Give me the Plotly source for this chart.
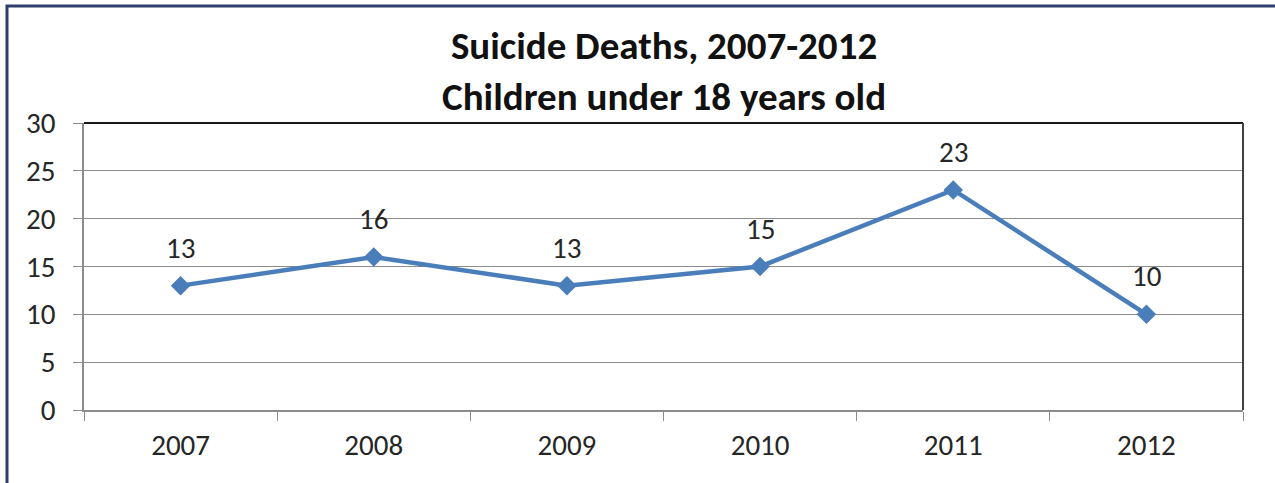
import plotly.graph_objects as go

years = ["2007", "2008", "2009", "2010", "2011", "2012"]
deaths = [13, 16, 13, 15, 23, 10]
y_ticks = [0, 5, 10, 15, 20, 25, 30]
title_lines = ["Suicide Deaths, 2007-2012", "Children under 18 years old"]

LINE_BLUE = "#4A7EBB"
FONT = "Carlito, Lato, 'Open Sans', sans-serif"
TEXT = "#262626"

W, H = 1275, 483
M = dict(l=84, r=32, t=123, b=73)
pw = W - M["l"] - M["r"]
ph = H - M["t"] - M["b"]


def px_x(p):
    return (p - M["l"]) / pw


def px_y(p):
    return (H - M["b"] - p) / ph


fig = go.Figure()
fig.add_trace(go.Scatter(
    x=years, y=deaths, mode="lines+markers",
    line=dict(color=LINE_BLUE, width=4.5),
    marker=dict(symbol="diamond", size=15, color=LINE_BLUE),
    hoverinfo="skip", showlegend=False,
))

# value labels above each point (x given as category index)
for i, v in enumerate(deaths):
    fig.add_annotation(x=i, y=v, xref="x", yref="y", text=str(v), showarrow=False,
                       yshift=38, font=dict(family=FONT, size=29, color=TEXT))

# two-line bold chart title
fig.add_annotation(x=0.5, xref="paper", y=px_y(71), yref="paper", xanchor="center",
                   yanchor="middle", showarrow=False,
                   text="<b>" + "<br>".join(title_lines) + "</b>",
                   font=dict(family=FONT, size=39, color="#111111"))

shapes = [
    # plot-area top and right edges
    dict(type="line", xref="paper", yref="paper", x0=0, x1=1, y0=1, y1=1,
         line=dict(color="#1a1a1a", width=2)),
    dict(type="line", xref="paper", yref="paper", x0=1, x1=1, y0=0, y1=1,
         line=dict(color="#404040", width=2)),
    # outer chart frame
    dict(type="rect", xref="paper", yref="paper",
         x0=px_x(7), x1=px_x(1290), y0=px_y(500), y1=px_y(6),
         line=dict(color="#2E3D6B", width=3), fillcolor="rgba(0,0,0,0)"),
]

fig.update_layout(
    width=W, height=H, margin=M,
    paper_bgcolor="white", plot_bgcolor="white",
    shapes=shapes,
    xaxis=dict(type="category", tickson="boundaries", ticks="outside", ticklen=9,
               tickcolor="#8c8c8c", showgrid=False, showline=True, linecolor="#8c8c8c",
               linewidth=1.5, range=[-0.5, 5.5], zeroline=False, ticklabelstandoff=8,
               tickfont=dict(family=FONT, size=29, color=TEXT)),
    yaxis=dict(range=[0, 30], tickvals=y_ticks, ticks="outside", ticklen=9,
               tickcolor="#8c8c8c", showgrid=True, gridcolor="#8c8c8c", gridwidth=1,
               showline=True, linecolor="#8c8c8c", linewidth=1.5, zeroline=False,
               ticklabelstandoff=12,
               tickfont=dict(family=FONT, size=29, color=TEXT)),
)

fig.write_html("out.html")
